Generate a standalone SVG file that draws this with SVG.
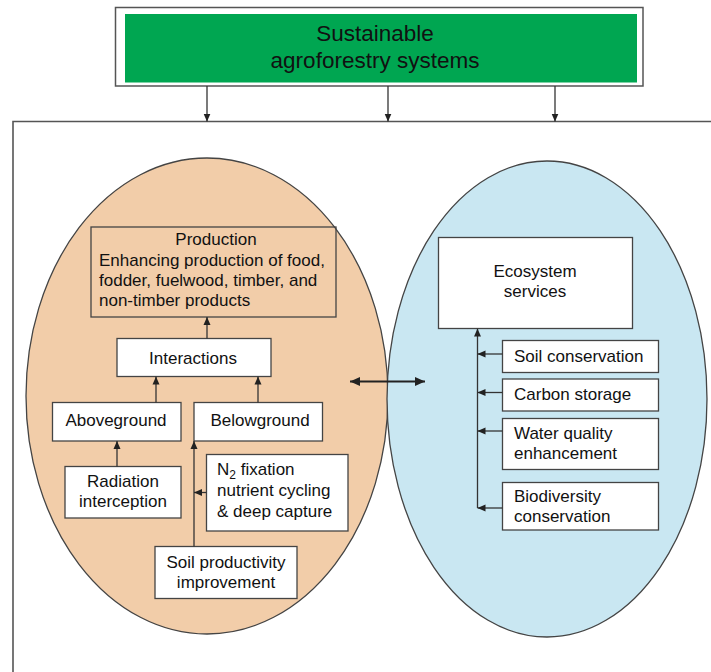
<svg xmlns="http://www.w3.org/2000/svg" width="711" height="672" viewBox="0 0 711 672">
<defs>
<marker id="ah" markerUnits="userSpaceOnUse" markerWidth="8" markerHeight="8" refX="8" refY="4" orient="auto-start-reverse">
<path d="M0,0.5 L8,4 L0,7.5 z" fill="#222"/>
</marker>
<marker id="ahb" markerUnits="userSpaceOnUse" markerWidth="10" markerHeight="10" refX="10" refY="5" orient="auto-start-reverse">
<path d="M0,0.5 L10,5 L0,9.5 z" fill="#222"/>
</marker>
</defs>
<style>
text{font-family:"Liberation Sans",Arial,sans-serif;font-size:17px;fill:#111}
.box{fill:#fff;stroke:#444;stroke-width:1.3}
.c{text-anchor:middle}
.ln{stroke:#333;stroke-width:1.3;fill:none;marker-end:url(#ah)}
</style>
<rect width="711" height="672" fill="#fff"/>
<g id="frame" fill="none" stroke="#555" stroke-width="1.6">
<path d="M13,672 V121.5 H711"/>
</g>
<g id="header">
<rect x="115.5" y="7.5" width="527.5" height="78.5" fill="#fff" stroke="#555" stroke-width="1.5"/>
<rect x="125" y="14" width="512" height="68.5" fill="#00A651"/>
<text x="375" y="40.5" class="c" style="font-size:22.5px">Sustainable</text>
<text x="375" y="67.5" class="c" style="font-size:22.5px">agroforestry systems</text>
</g>
<g id="ellipses">
<ellipse id="production-ellipse" cx="207" cy="396" rx="181" ry="238" fill="#F2CDA9" stroke="#444" stroke-width="1.3"/>
<ellipse id="ecosystem-ellipse" cx="547" cy="399" rx="160" ry="238" fill="#C9E7F2" stroke="#444" stroke-width="1.3"/>
</g>
<g id="production">
<rect x="91" y="227" width="245" height="90" fill="none" stroke="#444" stroke-width="1.3"/>
<text x="216" y="245" class="c">Production</text>
<text x="99" y="265.5">Enhancing production of food,</text>
<text x="99" y="285.5">fodder, fuelwood, timber, and</text>
<text x="99" y="305.5">non-timber products</text>
</g>
<g id="interactions">
<rect class="box" x="117" y="338.5" width="154" height="38"/>
<text x="193" y="364" class="c">Interactions</text>
</g>
<g id="aboveground">
<rect class="box" x="52.5" y="402.5" width="128.5" height="38.5"/>
<text x="116" y="426" class="c">Aboveground</text>
</g>
<g id="belowground">
<rect class="box" x="194" y="402.5" width="128.5" height="38.5"/>
<text x="260" y="426" class="c">Belowground</text>
</g>
<g id="radiation">
<rect class="box" x="65" y="466.5" width="116" height="51.5"/>
<text x="123" y="486.5" class="c">Radiation</text>
<text x="123" y="506.5" class="c">interception</text>
</g>
<g id="n2fixation">
<rect class="box" x="206.5" y="454.5" width="141.5" height="76.5"/>
<text x="217" y="475">N<tspan dy="4" style="font-size:12px">2</tspan><tspan dy="-4"> fixation</tspan></text>
<text x="217" y="495.5">nutrient cycling</text>
<text x="217" y="516.5">&amp; deep capture</text>
</g>
<g id="soil-productivity">
<rect class="box" x="155" y="546.5" width="142" height="52"/>
<text x="226" y="567.5" class="c">Soil productivity</text>
<text x="226" y="588" class="c">improvement</text>
</g>
<g id="ecosystem-services">
<rect class="box" x="438.5" y="237.5" width="194" height="91"/>
<text x="535" y="277" class="c">Ecosystem</text>
<text x="535" y="296.5" class="c">services</text>
</g>
<g id="soil-conservation">
<rect class="box" x="502.5" y="340.5" width="156" height="32"/>
<text x="514" y="361.5">Soil conservation</text>
</g>
<g id="carbon-storage">
<rect class="box" x="502.5" y="379" width="156" height="32"/>
<text x="514" y="400">Carbon storage</text>
</g>
<g id="water-quality">
<rect class="box" x="502.5" y="418.5" width="156" height="51"/>
<text x="514" y="438.5">Water quality</text>
<text x="514" y="459">enhancement</text>
</g>
<g id="biodiversity">
<rect class="box" x="502.5" y="482.5" width="156" height="47.5"/>
<text x="514" y="501.5">Biodiversity</text>
<text x="514" y="521.5">conservation</text>
</g>
<g id="connectors">
<path class="ln" d="M207,86 V121.5"/>
<path class="ln" d="M388,86 V121.5"/>
<path class="ln" d="M555,86 V121.5"/>
<path class="ln" d="M207,338.5 V317"/>
<path class="ln" d="M156,402.5 V376.5"/>
<path class="ln" d="M258,402.5 V376.5"/>
<path class="ln" d="M117,466.5 V441"/>
<path class="ln" d="M194,546.5 V441"/>
<path class="ln" d="M206.5,492.5 H194"/>
<path d="M350,381.5 H425" stroke="#222" stroke-width="2.2" fill="none" marker-start="url(#ahb)" marker-end="url(#ahb)"/>
<path class="ln" d="M477.5,508 V328.5"/>
<path class="ln" d="M502.5,354 H477.5"/>
<path class="ln" d="M502.5,392.5 H477.5"/>
<path class="ln" d="M502.5,431 H477.5"/>
<path class="ln" d="M502.5,508 H477.5"/>
</g>
</svg>
